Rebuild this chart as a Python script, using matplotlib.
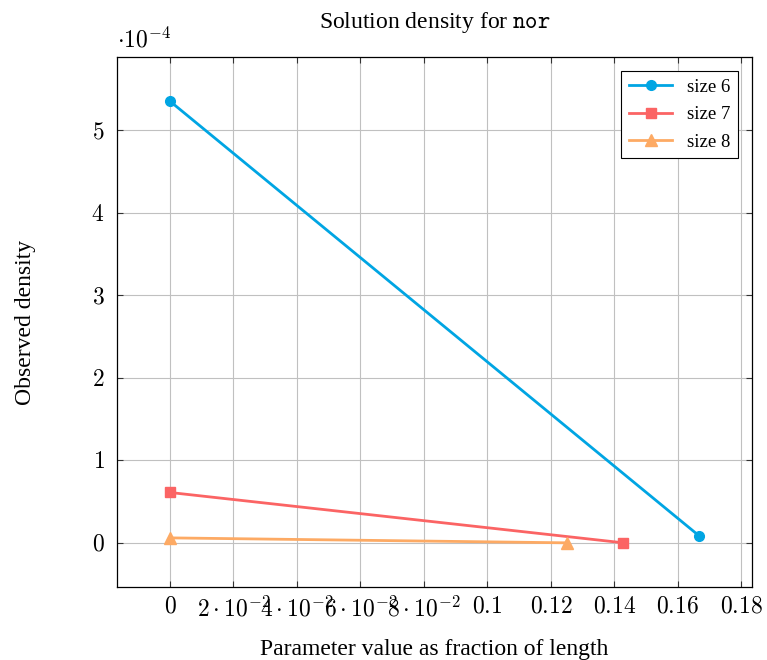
import numpy as np
import matplotlib.pyplot as plt
from matplotlib.ticker import FixedLocator, FixedFormatter

plt.rcParams['mathtext.fontset'] = 'cm'
plt.rcParams['font.family'] = ['Liberation Serif', 'DejaVu Serif']

# data (densities in units of 1e-4)
x6 = [0.0, 1 / 6]
y6 = [5.35, 0.085]
x7 = [0.0, 1 / 7]
y7 = [0.61, 0.0]
x8 = [0.0, 1 / 8]
y8 = [0.06, 0.0]

xticks = [0, 0.02, 0.04, 0.06, 0.08, 0.1, 0.12, 0.14, 0.16, 0.18]
xticklabels = ['$0$', r'$2\cdot10^{-2}$', r'$4\cdot10^{-2}$', r'$6\cdot10^{-2}$',
               r'$8\cdot10^{-2}$', '$0.1$', '$0.12$', '$0.14$', '$0.16$', '$0.18$']
yticks = [0, 1, 2, 3, 4, 5]

fig = plt.figure(figsize=(7.67, 6.60), dpi=100)
ax = fig.add_axes([117 / 767, 1 - 587 / 660, (752 - 117) / 767, (587 - 57) / 660])

ax.plot(x6, y6, '-o', color='#00a5e3', lw=2, ms=7, label='size 6', zorder=3)
ax.plot(x7, y7, '-s', color='#fb6464', lw=2, ms=7, label='size 7', zorder=3)
ax.plot(x8, y8, '-^', color='#fdaa64', lw=2, ms=8, label='size 8', zorder=3)

ax.set_xlim(-1 / 60, 0.18333)
ax.set_ylim(-0.535, 5.885)
ax.xaxis.set_major_locator(FixedLocator(xticks))
ax.xaxis.set_major_formatter(FixedFormatter(xticklabels))
ax.set_yticks(yticks)
ax.set_yticklabels([f'${v}$' for v in yticks])
ax.tick_params(direction='in', top=True, right=True, length=4, width=0.8,
               labelsize=17, colors='#333333', labelcolor='black')
ax.tick_params(axis='y', pad=9)
ax.tick_params(axis='x', pad=7)
ax.grid(True, color='#c0c0c0', lw=0.8)
ax.set_axisbelow(True)
for s in ax.spines.values():
    s.set_linewidth(0.9)

ax.set_title(r'Solution density for $\mathtt{nor}$', fontsize=17, pad=21)
ax.set_xlabel('Parameter value as fraction of length', fontsize=17, labelpad=12)
ax.set_ylabel('Observed density', fontsize=17, labelpad=40)
ax.text(0.0, 1.008, r'$\cdot10^{-4}$', transform=ax.transAxes, fontsize=17,
        ha='left', va='bottom')

leg = ax.legend(loc='upper right', fontsize=13.5, frameon=True, fancybox=False,
                edgecolor='black', framealpha=1, handlelength=2.3,
                labelspacing=0.55, borderaxespad=0.75)
leg.get_frame().set_linewidth(0.8)

fig.savefig('out.png', dpi=100)
